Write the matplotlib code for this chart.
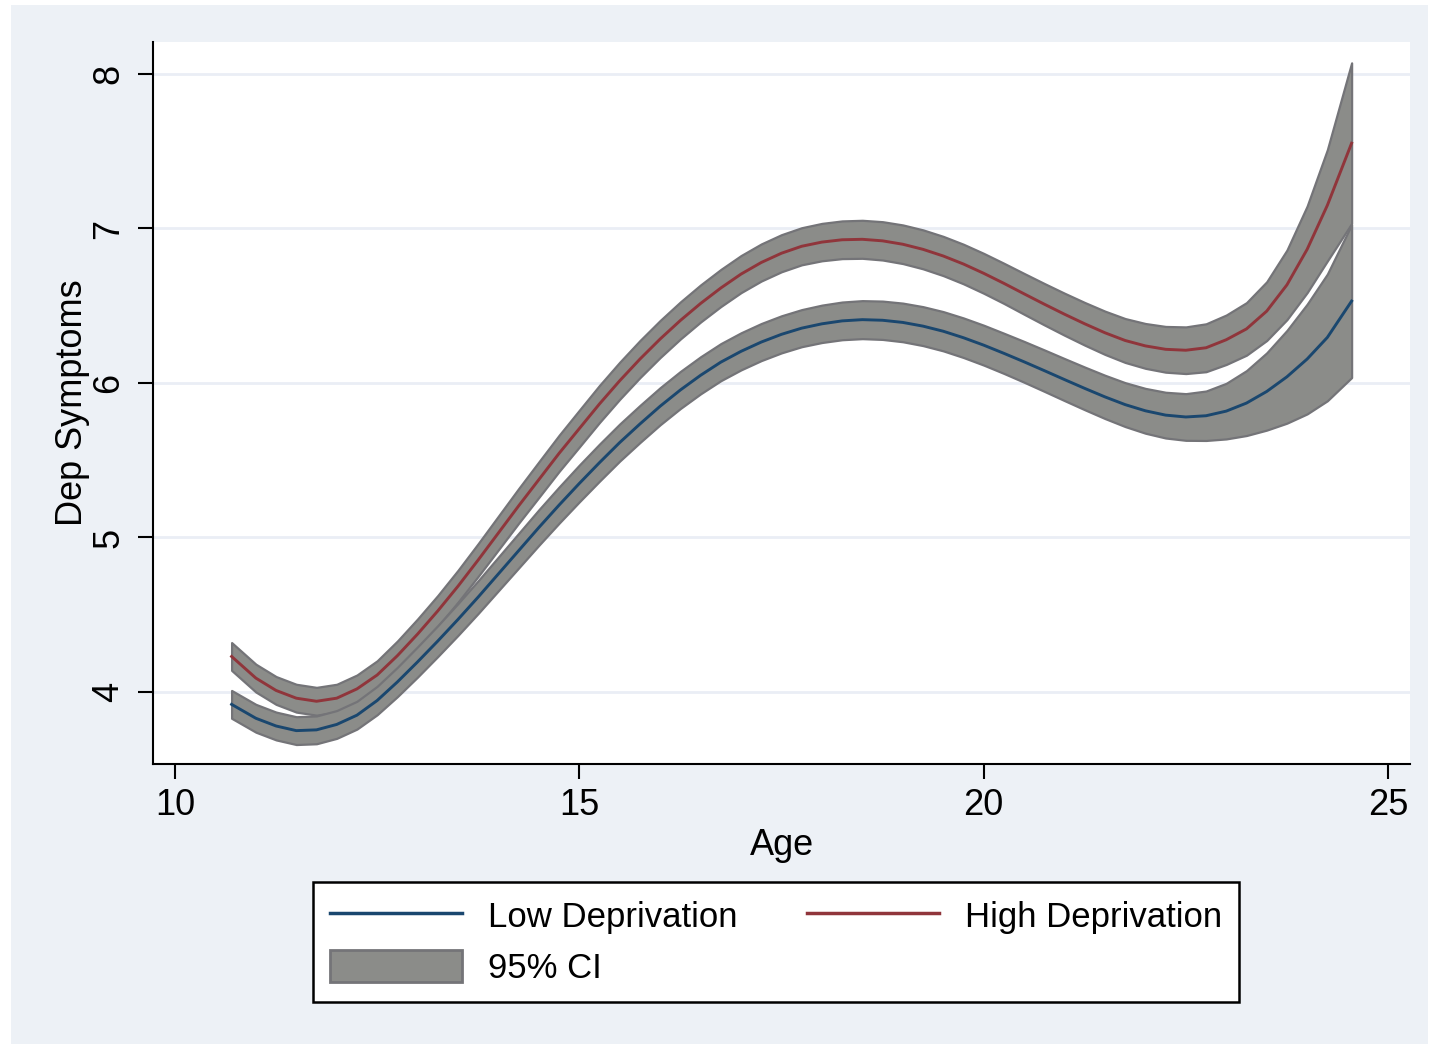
import numpy as np
import matplotlib
matplotlib.use("Agg")
from matplotlib import pyplot as plt
from matplotlib.patches import Rectangle, Patch
from matplotlib.lines import Line2D

# values (quarter-year steps)
age = [10.7, 11.0, 11.25, 11.5, 11.75, 12.0, 12.25, 12.5, 12.75, 13.0, 13.25, 13.5,
       13.75, 14.0, 14.25, 14.5, 14.75, 15.0, 15.25, 15.5, 15.75, 16.0, 16.25, 16.5,
       16.75, 17.0, 17.25, 17.5, 17.75, 18.0, 18.25, 18.5, 18.75, 19.0, 19.25, 19.5,
       19.75, 20.0, 20.25, 20.5, 20.75, 21.0, 21.25, 21.5, 21.75, 22.0, 22.25, 22.5,
       22.75, 23.0, 23.25, 23.5, 23.75, 24.0, 24.25, 24.55]

low_dep = [3.92, 3.83, 3.78, 3.75, 3.755, 3.79, 3.85, 3.945, 4.065, 4.195, 4.33, 4.47,
           4.615, 4.765, 4.915, 5.065, 5.21, 5.35, 5.485, 5.615, 5.735, 5.85, 5.955, 6.05,
           6.135, 6.205, 6.265, 6.315, 6.355, 6.383, 6.402, 6.41, 6.406, 6.392, 6.368, 6.335,
           6.293, 6.245, 6.192, 6.137, 6.08, 6.022, 5.965, 5.91, 5.86, 5.82, 5.792, 5.78,
           5.788, 5.818, 5.87, 5.945, 6.04, 6.155, 6.295, 6.53]
low_halfwidth = [0.09, 0.09, 0.09, 0.09, 0.09, 0.09, 0.09, 0.092, 0.095, 0.098, 0.10, 0.103,
                 0.106, 0.109, 0.112, 0.115, 0.117, 0.119, 0.12, 0.12, 0.12, 0.12, 0.12, 0.12,
                 0.12, 0.12, 0.12, 0.12, 0.12, 0.121, 0.122, 0.123, 0.124, 0.125, 0.126, 0.127,
                 0.128, 0.129, 0.13, 0.132, 0.134, 0.136, 0.138, 0.14, 0.142, 0.145, 0.148, 0.151,
                 0.16, 0.18, 0.21, 0.25, 0.30, 0.355, 0.41, 0.495]

high_dep = [4.23, 4.09, 4.01, 3.96, 3.94, 3.96, 4.02, 4.11, 4.235, 4.375, 4.525, 4.685,
            4.855, 5.03, 5.205, 5.375, 5.545, 5.705, 5.865, 6.015, 6.155, 6.285, 6.405, 6.515,
            6.615, 6.705, 6.78, 6.84, 6.885, 6.912, 6.927, 6.93, 6.92, 6.898, 6.865, 6.822,
            6.77, 6.71, 6.645, 6.577, 6.51, 6.445, 6.383, 6.325, 6.275, 6.24, 6.218, 6.212,
            6.228, 6.28, 6.35, 6.465, 6.635, 6.865, 7.15, 7.552]
high_halfwidth = [0.09, 0.09, 0.09, 0.09, 0.09, 0.09, 0.09, 0.092, 0.095, 0.098, 0.10, 0.103,
                  0.106, 0.109, 0.112, 0.115, 0.117, 0.119, 0.12, 0.12, 0.12, 0.12, 0.12, 0.12,
                  0.12, 0.12, 0.12, 0.12, 0.12, 0.121, 0.122, 0.123, 0.124, 0.125, 0.126, 0.127,
                  0.128, 0.129, 0.13, 0.132, 0.134, 0.136, 0.138, 0.14, 0.142, 0.145, 0.148, 0.151,
                  0.155, 0.16, 0.17, 0.19, 0.225, 0.28, 0.36, 0.52]

xticks = [10, 15, 20, 25]
yticks = [4, 5, 6, 7, 8]

plt.rcParams['font.family'] = ['Liberation Sans', 'DejaVu Sans']

navy = '#1a476f'
maroon = '#90353b'
band = '#8b8c89'
band_edge = '#747478'
bg = '#edf1f6'

fig = plt.figure(figsize=(14.29, 10.44), dpi=100)
fig.patch.set_facecolor('white')
fig.patches.append(Rectangle((11 / 1429, 0), 1417 / 1429, 1039 / 1044,
                             transform=fig.transFigure, facecolor=bg,
                             edgecolor='none', zorder=-10))

ax = fig.add_axes([153 / 1429, 1 - 764 / 1044, 1257 / 1429, 722 / 1044])
ax.set_facecolor('white')

a = np.array(age)
for vals, hw in [(high_dep, high_halfwidth), (low_dep, low_halfwidth)]:
    v = np.array(vals)
    h = np.array(hw)
    ax.fill_between(a, v - h, v + h, facecolor=band, edgecolor=band_edge,
                    linewidth=1.6, zorder=2)
ax.plot(age, low_dep, color=navy, lw=2.1, zorder=3)
ax.plot(age, high_dep, color=maroon, lw=2.1, zorder=3)

ax.set_xlim(9.728, 25.272)
ax.set_ylim(3.534, 8.207)
ax.set_xticks(xticks)
ax.set_yticks(yticks)
ax.set_yticklabels([str(t) for t in yticks], rotation=90, va='center')
ax.tick_params(axis='both', labelsize=26, length=11, width=1.5, color='black')
ax.tick_params(axis='x', pad=6)
ax.tick_params(axis='y', pad=8)
ax.grid(axis='y', color='#eaeef5', lw=2, zorder=0)
ax.set_axisbelow(True)
for s in ['top', 'right']:
    ax.spines[s].set_visible(False)
for s in ['left', 'bottom']:
    ax.spines[s].set_linewidth(1.5)

ax.set_xlabel('Age', fontsize=26, labelpad=4)
ax.set_ylabel('Dep Symptoms', fontsize=26, labelpad=1)

handles = [Line2D([], [], color=navy, lw=2.5),
           Patch(facecolor=band, edgecolor=band_edge, linewidth=2),
           Line2D([], [], color=maroon, lw=2.5)]
labels = ['Low Deprivation', '95% CI', 'High Deprivation']
leg = fig.legend(handles, labels, ncol=2, loc='upper center',
                 bbox_to_anchor=(776 / 1429, 1 - 882 / 1044),
                 bbox_transform=fig.transFigure, fontsize=25,
                 fancybox=False, framealpha=1, edgecolor='black',
                 handlelength=3.8, handleheight=1.0, handletextpad=0.75,
                 columnspacing=2.0, borderpad=0.5, labelspacing=0.48,
                 borderaxespad=0)
leg.get_frame().set_linewidth(1.8)

fig.savefig('out.png', dpi=100, facecolor=fig.get_facecolor())
